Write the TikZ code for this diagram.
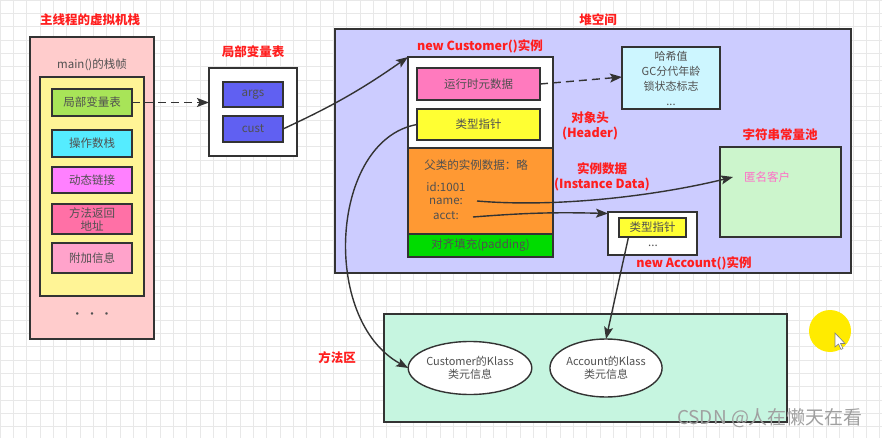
\documentclass[tikz,border=0pt]{standalone}
\usepackage{fontspec}
\newfontfamily\cjk{Noto Sans CJK SC}
\usetikzlibrary{arrows.meta,calc,shapes.geometric}
\definecolor{bd}{RGB}{51,51,51}
\definecolor{txt}{RGB}{80,80,80}
\definecolor{redt}{RGB}{255,30,30}
\definecolor{gridc}{RGB}{232,232,232}
\definecolor{cPink}{RGB}{255,204,204}
\definecolor{cYel}{RGB}{255,244,150}
\definecolor{cGreen}{RGB}{168,228,88}
\definecolor{cCyan}{RGB}{85,236,255}
\definecolor{cMag}{RGB}{255,128,255}
\definecolor{cHot}{RGB}{255,112,166}
\definecolor{cLpink}{RGB}{255,163,203}
\definecolor{cBlue}{RGB}{96,96,242}
\definecolor{cHeap}{RGB}{204,204,255}
\definecolor{cMeta}{RGB}{255,122,190}
\definecolor{cPtr}{RGB}{255,255,51}
\definecolor{cOrange}{RGB}{255,153,51}
\definecolor{cPad}{RGB}{0,220,0}
\definecolor{cHash}{RGB}{205,246,255}
\definecolor{cPool}{RGB}{204,245,204}
\definecolor{cMethod}{RGB}{198,245,224}
\definecolor{cAnon}{RGB}{255,110,200}
\definecolor{cDot}{RGB}{255,235,0}
\begin{document}
\begin{tikzpicture}[x=1pt,y=-1pt,
  every node/.style={font=\cjk\fontsize{11.5}{14}\selectfont, text=txt, inner sep=0pt, outer sep=0pt},
  box/.style={draw=bd, line width=1.4pt, rectangle},
  ttl/.style={font=\cjk\bfseries\fontsize{12.5}{15}\selectfont, text=redt},
  arr/.style={draw=bd, line width=1.4pt, -{Stealth[length=12pt,width=9pt,inset=2.5pt]}},
  darr/.style={arr, dash pattern=on 8pt off 5pt}]
\useasboundingbox (0,0) rectangle (882,438);
\fill[white] (0,0) rectangle (882,438);
\draw[gridc, line width=0.7pt, step=13.33pt] (0,0) grid (882,438);

% ---- main thread stack
\node[ttl] (t1) at (90,20) {主线程的虚拟机栈};
\node[box, fill=cPink, minimum width=124, minimum height=302] (stack) at (92,188) {};
\node (frame) at (92,65) {main()的栈帧};
\node[box, fill=cYel, minimum width=104, minimum height=219] (fr) at (92,186.5) {};
\node[box, fill=cGreen, minimum width=80, minimum height=27] (lvt) at (92,102.5) {局部变量表};
\node[box, fill=cCyan, minimum width=80, minimum height=27] (ops) at (92,143.5) {操作数栈};
\node[box, fill=cMag, minimum width=80, minimum height=26] (dyn) at (92,180) {动态链接};
\node[box, fill=cHot, minimum width=80, minimum height=30, align=center, font=\cjk\fontsize{11.5}{13}\selectfont] (ret) at (92,219) {方法返回\\地址};
\node[box, fill=cLpink, minimum width=80, minimum height=30] (add) at (92,258) {附加信息};
\node[font=\cjk\fontsize{12}{14}\selectfont] (dots) at (92,316) {• • •};

% ---- local variable table
\node[ttl] (t2) at (253,52) {局部变量表};
\node[box, fill=white, minimum width=88, minimum height=88] (lvbox) at (253,112) {};
\node[box, fill=cBlue, minimum width=60, minimum height=25] (args) at (253,94.5) {args};
\node[box, fill=cBlue, minimum width=60, minimum height=26] (cust) at (253,129) {cust};

% ---- heap
\node[box, fill=cHeap, minimum width=516, minimum height=244] (heap) at (593,151) {};
\node[ttl] (t3) at (598,20) {堆空间};
\node[ttl] (t4) at (480,46) {new Customer()实例};
\node[box, fill=white, minimum width=145, minimum height=91] (hdr) at (480.5,102.5) {};
\node[box, fill=cOrange, minimum width=145, minimum height=86] (inst) at (480.5,191) {};
\node[box, fill=cPad, minimum width=145, minimum height=23] (pad) at (480.5,245.5) {对齐填充(padding)};
\node[box, fill=cMeta, minimum width=123, minimum height=32] (meta) at (478.5,84) {运行时元数据};
\node[box, fill=cPtr, minimum width=123, minimum height=31] (ptr) at (478.5,124.5) {类型指针};
\node[ttl, align=center, font=\cjk\bfseries\fontsize{12.5}{15}\selectfont] (t5) at (590,125.5) {对象头\\(Header)};
\node (sup) at (476,165) {父类的实例数据：略};
\node (id) at (446,187) {id:1001};
\node (nm) at (446,201) {name:};
\node (ac) at (446,216) {acct:};
\node[ttl, align=center, font=\cjk\bfseries\fontsize{12.5}{15}\selectfont] (t6) at (602,176.5) {实例数据\\(Instance Data)};

\node[box, fill=cHash, minimum width=98, minimum height=62, align=center, font=\cjk\fontsize{11}{15}\selectfont] (hash) at (671,78) {哈希值\\GC分代年龄\\锁状态标志\\...};

\node[ttl] (t7) at (780,135) {字符串常量池};
\node[box, fill=cPool, minimum width=121, minimum height=90] (pool) at (780.5,192) {};
\node[text=cAnon] (anon) at (767,177) {匿名客户};

\node[box, fill=white, minimum width=89, minimum height=43] (acc) at (652.5,233.5) {};
\node[box, fill=cPtr, minimum width=67, minimum height=19] (aptr) at (652.5,227.5) {类型指针};
\node (adots) at (653,246) {...};
\node[ttl] (t8) at (694,263) {new Account()实例};

% ---- method area
\node[box, fill=cMethod, minimum width=403, minimum height=108] (marea) at (585.5,368) {};
\node[ttl] (t9) at (337,358) {方法区};
\node[box, ellipse, fill=white, minimum width=120, minimum height=53, align=center, font=\cjk\fontsize{11}{13.5}\selectfont] (ck) at (470,368) {Customer的Klass\\类元信息};
\node[box, ellipse, fill=white, minimum width=110, minimum height=58, align=center, font=\cjk\fontsize{11}{13.5}\selectfont] (ak) at (606,368) {Account的Klass\\类元信息};

% ---- connectors
\coordinate (nmout) at (477,201);
\coordinate (acout) at (473,217);
\coordinate (poolin) at (733,177);
\draw[darr] (lvt.east) -- (lvt.east -| lvbox.west);
\draw[arr] (cust.east) to[bend right=5] (hdr.north west);
\draw[darr] (meta.east) -- ([yshift=1pt]hash.west);
\draw[arr] (nmout) .. controls (560,208) and (660,195) .. (poolin);
\draw[arr] (acout) to[bend left=3] ([yshift=-1.5pt]acc.north west);
\draw[arr] (ptr.west) .. controls (330,140) and (320,320) .. (ck.west);
\draw[arr] ([xshift=-24pt]aptr.south) -- (ak.north);

% ---- recording marks
\fill[cDot] (830,331) circle (21);
\draw[fill=white, draw=gray, line width=0.6pt] (835,333) -- (835,347) -- (838.5,344) -- (841,349.5) -- (843,348.5) -- (840.5,343.5) -- (845,343.5) -- cycle;
\node[font=\cjk\fontsize{19}{22}\selectfont, text={rgb,255:red,160;green,160;blue,160}] (wm) at (770,418) {CSDN @人在懒天在看};
\end{tikzpicture}
\end{document}
